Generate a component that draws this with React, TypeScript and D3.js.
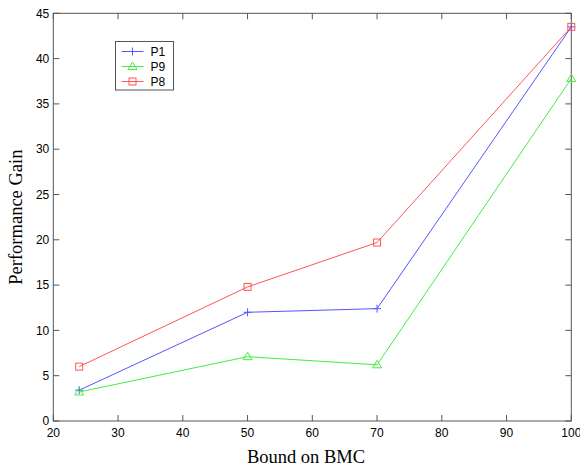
import React, { useRef, useEffect } from "react";
import * as d3 from "d3";

const bounds = [24, 50, 70, 100];
const p1 = [3.4, 12.0, 12.4, 43.5];
const p9 = [3.2, 7.1, 6.2, 37.8];
const p8 = [6.0, 14.8, 19.7, 43.5];
const xTicks = [20, 30, 40, 50, 60, 70, 80, 90, 100];
const yTicks = [0, 5, 10, 15, 20, 25, 30, 35, 40, 45];

const series = [
  { name: "P1", values: p1, color: "#5555ff", marker: "plus" },
  { name: "P9", values: p9, color: "#44ec44", marker: "triangle" },
  { name: "P8", values: p8, color: "#ff5555", marker: "square" },
];

export default function App() {
  const ref = useRef<SVGSVGElement>(null);
  const width = 580;
  const height = 468;

  useEffect(() => {
    const svg = d3.select(ref.current);
    svg.selectAll("*").remove();

    const margin = { top: 13.3, right: 8.7, bottom: 47, left: 53.3 };
    const innerW = width - margin.left - margin.right;
    const innerH = height - margin.top - margin.bottom;

    const g = svg
      .append("g")
      .attr("transform", `translate(${margin.left},${margin.top})`);

    const x = d3.scaleLinear().domain([20, 100]).range([0, innerW]);
    const y = d3.scaleLinear().domain([0, 45]).range([innerH, 0]);

    const axisColor = "#555";
    const font = "'Liberation Sans', Arial, sans-serif";
    const serif = "'Liberation Serif', 'Times New Roman', serif";

    // 枠
    g.append("rect")
      .attr("width", innerW)
      .attr("height", innerH)
      .attr("fill", "none")
      .attr("stroke", axisColor)
      .attr("stroke-width", 1);

    // 目盛り（内向き）
    const tl = 6;
    xTicks.forEach((t) => {
      g.append("line")
        .attr("x1", x(t)).attr("x2", x(t))
        .attr("y1", innerH).attr("y2", innerH - tl)
        .attr("stroke", axisColor);
      g.append("line")
        .attr("x1", x(t)).attr("x2", x(t))
        .attr("y1", 0).attr("y2", tl)
        .attr("stroke", axisColor);
      g.append("text")
        .attr("x", x(t))
        .attr("y", innerH + 15.7)
        .attr("text-anchor", "middle")
        .attr("font-family", font)
        .attr("font-size", 12)
        .attr("fill", "#000")
        .text(t);
    });
    yTicks.forEach((t) => {
      g.append("line")
        .attr("x1", 0).attr("x2", tl)
        .attr("y1", y(t)).attr("y2", y(t))
        .attr("stroke", axisColor);
      g.append("line")
        .attr("x1", innerW).attr("x2", innerW - tl)
        .attr("y1", y(t)).attr("y2", y(t))
        .attr("stroke", axisColor);
      g.append("text")
        .attr("x", -4)
        .attr("y", y(t) + 4.2)
        .attr("text-anchor", "end")
        .attr("font-family", font)
        .attr("font-size", 12)
        .attr("fill", "#000")
        .text(t);
    });

    // 軸ラベル
    svg.append("text")
      .attr("x", 306)
      .attr("y", 463)
      .attr("text-anchor", "middle")
      .attr("font-family", serif)
      .attr("font-size", 18.5)
      .text("Bound on BMC");
    svg.append("text")
      .attr("transform", `translate(21.5,${margin.top + innerH / 2}) rotate(-90)`)
      .attr("text-anchor", "middle")
      .attr("font-family", serif)
      .attr("font-size", 18.5)
      .text("Performance Gain");

    const drawMarker = (sel: any, kind: string, cx: number, cy: number, color: string) => {
      if (kind === "plus") {
        sel.append("path")
          .attr("d", `M${cx - 4},${cy}H${cx + 4}M${cx},${cy - 4}V${cy + 4}`)
          .attr("stroke", color).attr("fill", "none");
      } else if (kind === "triangle") {
        sel.append("path")
          .attr("d", `M${cx},${cy - 4.5}L${cx + 4.5},${cy + 3}L${cx - 4.5},${cy + 3}Z`)
          .attr("stroke", color).attr("fill", "none");
      } else {
        sel.append("rect")
          .attr("x", cx - 3.5).attr("y", cy - 3.5)
          .attr("width", 7).attr("height", 7)
          .attr("stroke", color).attr("fill", "none");
      }
    };

    const line = d3.line<[number, number]>()
      .x((d) => x(d[0]))
      .y((d) => y(d[1]));

    series.forEach((s) => {
      const pts: [number, number][] = bounds.map((b, i) => [b, s.values[i]]);
      g.append("path")
        .attr("d", line(pts))
        .attr("fill", "none")
        .attr("stroke", s.color)
        .attr("stroke-width", 1);
      pts.forEach((p) => drawMarker(g, s.marker, x(p[0]), y(p[1]), s.color));
    });

    // 凡例
    const lg = svg.append("g").attr("transform", "translate(115.5,41.5)");
    lg.append("rect")
      .attr("width", 58)
      .attr("height", 48.5)
      .attr("fill", "#fff")
      .attr("stroke", axisColor);
    series.forEach((s, i) => {
      const cy = 10 + i * 15;
      lg.append("line")
        .attr("x1", 6).attr("x2", 28)
        .attr("y1", cy).attr("y2", cy)
        .attr("stroke", s.color);
      drawMarker(lg, s.marker, 17, cy, s.color);
      lg.append("text")
        .attr("x", 35)
        .attr("y", cy + 4.5)
        .attr("font-family", font)
        .attr("font-size", 12)
        .text(s.name);
    });
  }, []);

  return (
    <svg
      ref={ref}
      width={width}
      height={height}
      style={{ position: "absolute", left: 0, top: 0, background: "#fff" }}
    />
  );
}
